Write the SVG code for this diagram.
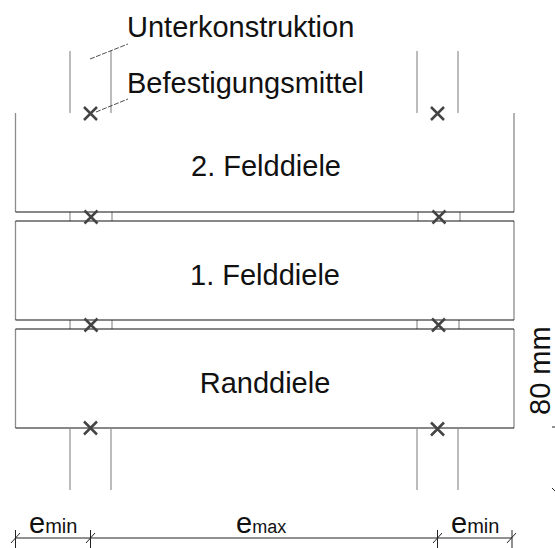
<svg xmlns="http://www.w3.org/2000/svg" width="555" height="548" viewBox="0 0 555 548">
<style>
.t{font-family:"Liberation Sans",Arial,sans-serif;fill:#111;font-size:29px}
.s{font-size:20px}
.m{font-size:18px}
.b{stroke:#999;stroke-width:1.3;fill:none}
.p{stroke:#8c8c8c;stroke-width:1.3;fill:none}
.h{stroke:#111;stroke-width:1.2;fill:none}
.x{stroke:#444;stroke-width:2.5;fill:none}
.l{stroke:#222;stroke-width:.8;stroke-dasharray:5 1.5;fill:none}
.d{stroke:#222;stroke-width:1;fill:none}
</style>
<defs><path id="c" class="x" d="M-6.5-6.5L6.5 6.5M-6.5 6.5L6.5-6.5"/></defs>
<g id="battens">
<path class="b" d="M70 51V113M111 51V113M70 212V221M112 212V221M70 320V329M112 320V329M70 429V490M111 429V490"/>
<path class="b" d="M417 51V113M458 51V113M418 212V221M460 212V221M417 320V329M459 320V329M417 429V490M458 429V490"/>
</g>
<g id="randdiele">
<path class="p" d="M15.5 329V428M514 329V428"/><path class="h" d="M15.5 329H514M15.5 428H514"/>
<text class="t" x="265" y="393" text-anchor="middle">Randdiele</text>
</g>
<g id="feld1">
<path class="p" d="M15.5 221V320M514 221V320"/><path class="h" d="M15.5 221H514M15.5 320H514"/>
<text class="t" x="265" y="285" text-anchor="middle">1. Felddiele</text>
</g>
<g id="feld2">
<path class="p" d="M15.5 113V212M514 113V212"/><path class="h" d="M15.5 212H514"/>
<text class="t" x="266" y="176" text-anchor="middle">2. Felddiele</text>
</g>
<g id="fasteners">
<use href="#c" x="90.5" y="113.5"/><use href="#c" x="91" y="217"/><use href="#c" x="91" y="325"/><use href="#c" x="90.5" y="428"/>
<use href="#c" x="437.5" y="113.5"/><use href="#c" x="439" y="217"/><use href="#c" x="438.5" y="325"/><use href="#c" x="437.5" y="429"/>
</g>
<g id="connectors">
<path class="l" d="M90 59L128 44M96 112L128 99"/>
<path class="d" d="M15.5 538H512M15.5 530V548M90.5 530V548M437.5 530V548M512 530V548M11 543L20 533M86 543L95 533M433 543L442 533M507 543L516 533"/>
<path class="d" d="M552 427H556M552 488L555 491"/>
</g>
<g id="labels">
<text class="t" x="127" y="37">Unterkonstruktion</text>
<text class="t" x="127" y="93">Befestigungsmittel</text>
<text class="t" x="29" y="533">e<tspan class="s">min</tspan></text>
<text class="t" x="236" y="533">e<tspan class="m">max</tspan></text>
<text class="t" x="451" y="533">e<tspan class="s">min</tspan></text>
<text class="t" transform="translate(550 415) rotate(-90)">80 mm</text>
</g>
</svg>
